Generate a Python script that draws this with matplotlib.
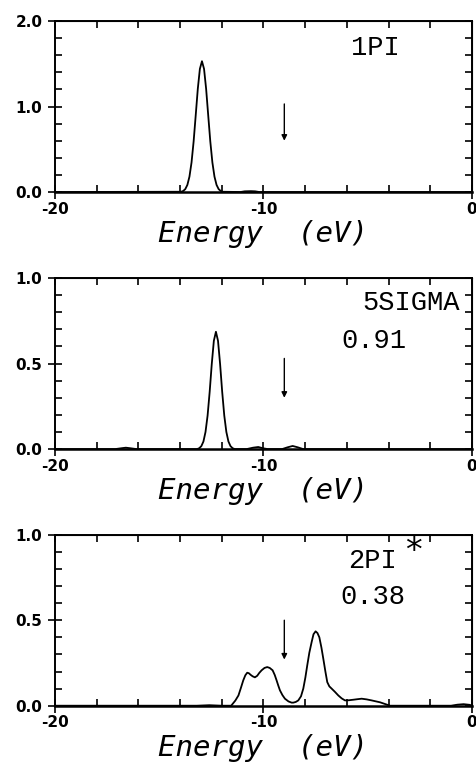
import matplotlib
matplotlib.use("Agg")
import matplotlib.pyplot as plt
from matplotlib.ticker import MultipleLocator

plt.rcParams['axes.unicode_minus'] = False

# ---------------- data ----------------
xticks = [-20, -10, 0]
xtick_labels = ['-20', '-10', '0']

# panel 1 : 1PI
e1 = [-20.0, -13.95, -13.85, -13.75, -13.65, -13.55, -13.45, -13.35, -13.25,
      -13.15, -13.05, -12.95, -12.85, -12.75, -12.65, -12.55, -12.45, -12.35,
      -12.25, -12.15, -12.05, -11.95, -11.1, -10.9, -10.6, -10.4, -10.2, 0.0]
v1 = [0.0, 0.003, 0.012, 0.034, 0.083, 0.180, 0.346, 0.591, 0.896,
      1.206, 1.44, 1.53, 1.44, 1.206, 0.896, 0.591, 0.346, 0.180,
      0.083, 0.034, 0.012, 0.003, 0.0, 0.008, 0.01, 0.008, 0.0, 0.0]
yticks1 = [0.0, 1.0, 2.0]
ytick_labels1 = ['0.0', '1.0', '2.0']

# panel 2 : 5SIGMA
e2 = [-20.0, -17.1, -16.8, -16.6, -16.4, -16.1, -13.18, -13.08, -12.98, -12.88,
      -12.78, -12.68, -12.58, -12.48, -12.38, -12.28, -12.18, -12.08, -11.98,
      -11.88, -11.78, -11.68, -11.58, -11.48, -11.38, -10.8, -10.5, -10.25,
      -10.0, -9.8, -9.1, -8.85, -8.6, -8.35, -8.1, 0.0]
v2 = [0.0, 0.0, 0.005, 0.008, 0.005, 0.0, 0.0, 0.005, 0.017, 0.044,
      0.100, 0.196, 0.335, 0.497, 0.633, 0.686, 0.633, 0.497, 0.335,
      0.196, 0.100, 0.044, 0.017, 0.005, 0.0, 0.0, 0.008, 0.012,
      0.004, 0.0, 0.0, 0.01, 0.018, 0.01, 0.0, 0.0]

# panel 3 : 2PI*
e3 = [-20.0, -13.2, -12.6, -12.0, -11.55, -11.35, -11.2, -11.08, -10.97, -10.87,
      -10.78, -10.7, -10.62, -10.52, -10.41, -10.3, -10.2, -10.09, -9.95, -9.82,
      -9.7, -9.56, -9.46, -9.37, -9.29, -9.21, -9.09, -8.97, -8.8, -8.65,
      -8.57, -8.45, -8.33, -8.2, -8.09, -7.99, -7.9, -7.8, -7.69, -7.6,
      -7.5, -7.41, -7.32, -7.22, -7.13, -7.03, -6.94, -6.84, -6.73, -6.58,
      -6.41, -6.25, -6.09, -5.9, -5.69, -5.5, -5.29, -5.05, -4.81, -4.41,
      -3.93, -1.0, -0.7, -0.4, -0.1, 0.0]
v3 = [0.0, 0.0, 0.003, 0.0, 0.0, 0.03, 0.06, 0.105, 0.148, 0.178,
      0.193, 0.19, 0.181, 0.172, 0.166, 0.175, 0.192, 0.207, 0.221, 0.226,
      0.221, 0.207, 0.18, 0.148, 0.118, 0.09, 0.062, 0.041, 0.025, 0.018,
      0.018, 0.022, 0.031, 0.055, 0.10, 0.165, 0.236, 0.31, 0.372, 0.418,
      0.435, 0.425, 0.40, 0.34, 0.275, 0.2, 0.138, 0.113, 0.10, 0.082,
      0.06, 0.043, 0.031, 0.032, 0.035, 0.038, 0.041, 0.037, 0.031, 0.02,
      0.0, 0.0, 0.006, 0.009, 0.005, 0.0]
yticks23 = [0.0, 0.5, 1.0]
ytick_labels23 = ['0.0', '0.5', '1.0']

# arrows (energy, start value, end value)
arrow_x = -9.0
arrow1 = (1.03, 0.60)
arrow2 = (0.53, 0.30)
arrow3 = (0.50, 0.27)

xlabel = 'Energy  (eV)'

# ---------------- figure ----------------
fig = plt.figure(figsize=(4.76, 7.65), dpi=100)
positions = [[0.1155, 0.749, 0.876, 0.2235],
             [0.1155, 0.413, 0.876, 0.2235],
             [0.1155, 0.0775, 0.876, 0.2235]]

label_font = dict(family='Liberation Mono', fontsize=19.5, color='black')


def style_axes(ax, ymax, yminor, yticks, ylabels):
    ax.set_xlim(-20, 0)
    ax.set_ylim(0, ymax)
    ax.set_xticks(xticks)
    ax.set_xticklabels(xtick_labels)
    ax.xaxis.set_minor_locator(MultipleLocator(2))
    ax.set_yticks(yticks)
    ax.set_yticklabels(ylabels)
    ax.yaxis.set_minor_locator(MultipleLocator(yminor))
    ax.tick_params(which='major', direction='inout', length=10, width=1.2,
                   labelsize=11, pad=2)
    ax.tick_params(which='minor', direction='in', length=5, width=1.2)
    ax.tick_params(axis='y', which='major', pad=4)
    for lab in ax.get_xticklabels() + ax.get_yticklabels():
        lab.set_fontweight('bold')
        lab.set_family('DejaVu Sans')
    for s in ax.spines.values():
        s.set_linewidth(1.4)
    ax.spines['bottom'].set_linewidth(1.8)
    # top / right inward ticks
    sx = ax.secondary_xaxis('top')
    sx.set_xticks(list(range(-20, 1, 2)))
    sx.tick_params(direction='in', length=5, width=1.2, labeltop=False)
    sy = ax.secondary_yaxis('right')
    n = int(round(ymax / yminor))
    sy.set_yticks([i * yminor for i in range(n + 1)])
    sy.tick_params(direction='in', length=5, width=1.2, labelright=False)
    ax.set_xlabel(xlabel, fontsize=21, fontstyle='oblique',
                  family='DejaVu Sans Mono', labelpad=2.5)


def draw_arrow(ax, a):
    ax.annotate('', xy=(arrow_x, a[1]), xytext=(arrow_x, a[0]),
                arrowprops=dict(arrowstyle='-|>', color='black', lw=1.0,
                                mutation_scale=8, shrinkA=0, shrinkB=0))


ax1 = fig.add_axes(positions[0])
ax1.plot(e1, v1, color='black', lw=1.3)
style_axes(ax1, 2.0, 0.2, yticks1, ytick_labels1)
draw_arrow(ax1, arrow1)
ax1.text(-4.65, 1.69, '1PI', ha='center', va='center', **label_font)

ax2 = fig.add_axes(positions[1])
ax2.plot(e2, v2, color='black', lw=1.3)
style_axes(ax2, 1.0, 0.1, yticks23, ytick_labels23)
draw_arrow(ax2, arrow2)
ax2.text(-2.9, 0.854, '5SIGMA', ha='center', va='center', **label_font)
ax2.text(-4.72, 0.63, '0.91', ha='center', va='center', **label_font)

ax3 = fig.add_axes(positions[2])
ax3.plot(e3, v3, color='black', lw=1.3)
style_axes(ax3, 1.0, 0.1, yticks23, ytick_labels23)
draw_arrow(ax3, arrow3)
ax3.text(-4.77, 0.848, '2PI', ha='center', va='center', **label_font)
ax3.text(-2.83, 0.90, '*', ha='center', va='center',
         family='DejaVu Sans', fontsize=24, color='black')
ax3.text(-4.77, 0.637, '0.38', ha='center', va='center', **label_font)

fig.savefig('out.png', dpi=100)
